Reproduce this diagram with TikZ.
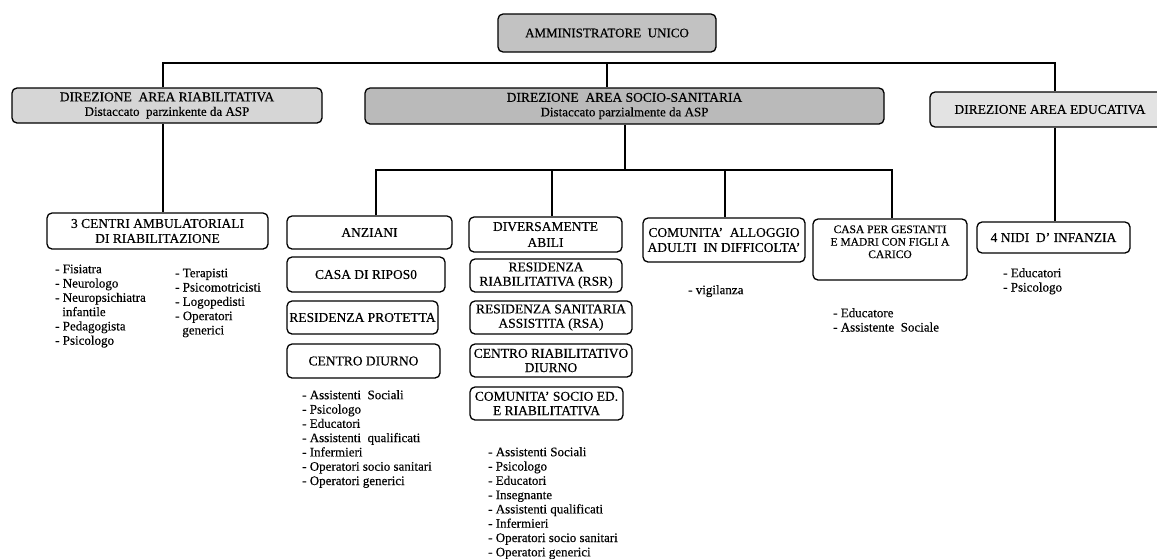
\documentclass[tikz,border=0pt]{standalone}
\usepackage{fontspec}
\setmainfont[FakeBold=0.35]{Liberation Serif}
\begin{document}
\begin{tikzpicture}[x=1pt,y=-1pt,
  box/.style={draw, line width=1.3pt, rounded corners=5pt, align=center, inner sep=0pt,
    font=\fontsize{13.5}{15}\selectfont},
  tightbox/.style={box, font=\fontsize{13.5}{14.3}\selectfont},
  topbox/.style={box, font=\fontsize{13.5}{14.5}\selectfont},
  lst/.style={anchor=north west, inner sep=0pt, align=left, font=\fontsize{13}{14.3}\selectfont},
  conn/.style={line width=1.1pt}]
\useasboundingbox (0,0) rectangle (1157,558);
\fill[white] (0,0) rectangle (1157,558);
\clip (0,0) rectangle (1157,558);

% top level
\node[topbox, fill=black!24, minimum width=218pt, minimum height=38pt, font=\fontsize{13}{15}\selectfont] (amm) at (607,33) {AMMINISTRATORE~ UNICO};

% second row
\node[topbox, fill=black!16, minimum width=310pt, minimum height=35pt] (dra) at (167,105.5)
  {DIREZIONE~ AREA RIABILITATIVA\\{\fontsize{13}{14}\selectfont Distaccato~ parzinkente da ASP}};
\node[topbox, fill=black!27, minimum width=519pt, minimum height=36pt] (dss) at (624.5,106)
  {DIREZIONE~ AREA SOCIO-SANITARIA\\{\fontsize{13}{14}\selectfont Distaccato parzialmente da ASP}};
\node[topbox, fill=black!11, minimum width=240pt, minimum height=35pt] (dae) at (1050,109.5)
  {DIREZIONE AREA EDUCATIVA};

% third row
\node[box, minimum width=221pt, minimum height=36pt] (centri) at (157.5,231)
  {3 CENTRI AMBULATORIALI\\DI RIABILITAZIONE};
\node[box, minimum width=165pt, minimum height=33pt] (anz) at (369.5,232.5) {ANZIANI};
\node[box, minimum width=158pt, minimum height=35pt] (riposo) at (366,274.5) {CASA DI RIPOS0};
\node[box, minimum width=151pt, minimum height=33pt] (protetta) at (362.5,317.5) {RESIDENZA PROTETTA};
\node[box, minimum width=153pt, minimum height=34pt] (cdiurno) at (363.5,361) {CENTRO DIURNO};

\node[box, minimum width=153pt, minimum height=35pt, font=\fontsize{13.5}{16}\selectfont] (dab) at (545.5,234.5) {DIVERSAMENTE\\ABILI};
\node[tightbox, minimum width=152pt, minimum height=33pt] (rsr) at (546,275.5) {RESIDENZA\\RIABILITATIVA (RSR)};
\node[tightbox, minimum width=162pt, minimum height=33pt] (rsa) at (551,317.5) {RESIDENZA SANITARIA\\ASSISTITA (RSA)};
\node[tightbox, minimum width=162pt, minimum height=33pt] (cria) at (551,360.5) {CENTRO RIABILITATIVO\\DIURNO};
\node[tightbox, minimum width=153pt, minimum height=33pt] (csed) at (546.5,403.5) {COMUNITA' SOCIO ED.\\E RIABILITATIVA};

\node[box, minimum width=162pt, minimum height=44pt] (alloggio) at (724,240) {COMUNITA'~ ALLOGGIO\\ADULTI~ IN DIFFICOLTA'};
\node[box, minimum width=154pt, minimum height=61pt, font=\fontsize{11.5}{12.5}\selectfont] (gestanti) at (890,249.5) {CASA PER GESTANTI\\E MADRI CON FIGLI A\\CARICO\\[3pt]};
\node[box, minimum width=153pt, minimum height=31pt] (nidi) at (1053.5,237.5) {4 NIDI~ D' INFANZIA};

% connectors
\coordinate (tl) at (163,63);
\coordinate (tm) at (607,63);
\coordinate (tr) at (1055,63);
\draw[conn] (dra.north -| tl) -- (tl) -- (tr) -- (dae.north -| tr);
\draw[conn] (tm) -- (dss.north -| tm);
\draw[conn] (dra.south -| tl) -- (centri.north -| tl);
\draw[conn] (dae.south -| tr) -- (nidi.north -| tr);

\coordinate (hm) at (625,170);
\coordinate (h1) at (376,170);
\coordinate (h2) at (552,170);
\coordinate (h3) at (725,170);
\coordinate (h4) at (892,170);
\draw[conn] (dss.south -| hm) -- (hm);
\draw[conn] (anz.north -| h1) -- (h1) -- (h4) -- (gestanti.north -| h4);
\draw[conn] (h2) -- (dab.north -| h2);
\draw[conn] (h3) -- (alloggio.north -| h3);

% lists
\node[lst] (l1) at (55,263) {\strut- Fisiatra\\- Neurologo\\- Neuropsichiatra\\\hspace*{0.55em}infantile\\- Pedagogista\\- Psicologo};
\node[lst] (l2) at (175,267) {\strut- Terapisti\\- Psicomotricisti\\- Logopedisti\\- Operatori\\\hspace*{0.55em}generici};
\node[lst] (l3) at (302,389) {\strut- Assistenti~ Sociali\\- Psicologo\\- Educatori\\- Assistenti~ qualificati\\- Infermieri\\- Operatori socio sanitari\\- Operatori generici};
\node[lst] (l4) at (488,446) {\strut- Assistenti Sociali\\- Psicologo\\- Educatori\\- Insegnante\\- Assistenti qualificati\\- Infermieri\\- Operatori socio sanitari\\- Operatori generici};
\node[lst] (l5) at (688,284) {\strut- vigilanza};
\node[lst] (l6) at (833,307) {\strut- Educatore\\- Assistente~ Sociale};
\node[lst] (l7) at (1003,267) {\strut- Educatori\\- Psicologo};
\end{tikzpicture}
\end{document}
